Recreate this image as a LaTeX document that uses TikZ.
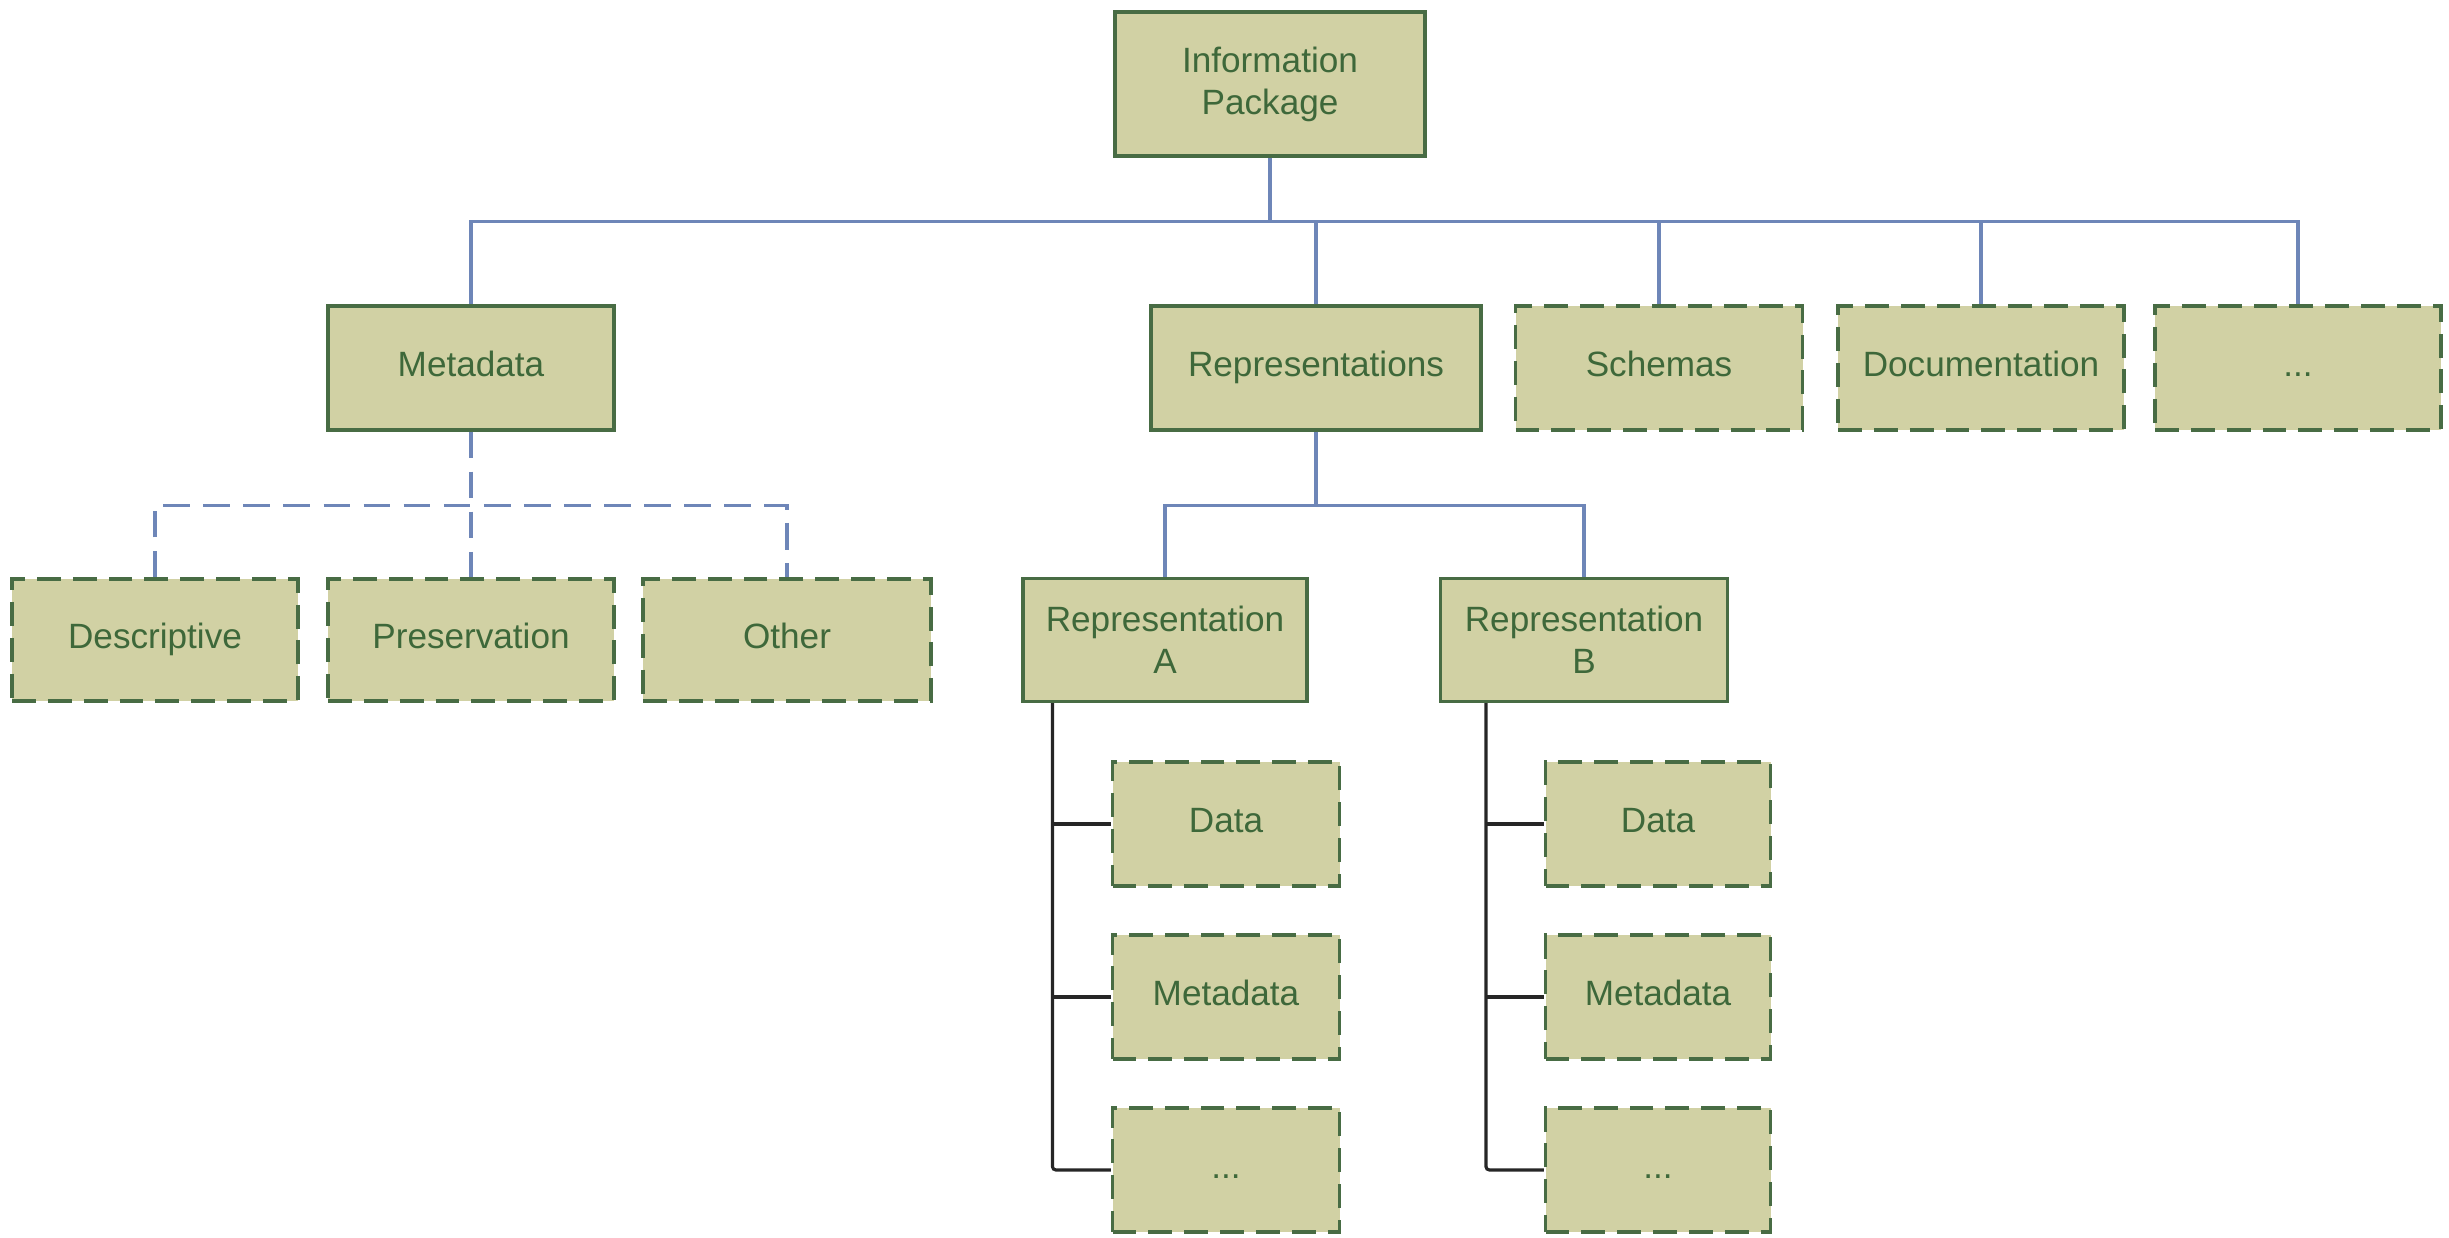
\documentclass[tikz,border=0pt]{standalone}
\usepackage{fontspec}
\setmainfont{Liberation Sans}
\usetikzlibrary{calc}
\definecolor{boxfill}{RGB}{209,209,164}
\definecolor{boxline}{RGB}{72,108,68}
\definecolor{boxtext}{RGB}{62,104,58}
\definecolor{busblue}{RGB}{110,134,184}
\tikzset{
  solidbox/.style={draw=boxline, fill=boxfill, line width=0.9pt, text=boxtext,
    font=\fontsize{10}{12}\selectfont, align=center, inner sep=0pt},
  dashbox/.style={solidbox, dash pattern=on 6.8pt off 3.4pt},
  oneline/.style={text height=8.4pt, text depth=3.6pt},
  bus/.style={draw=busblue, line width=0.9pt},
  dbus/.style={bus, dash pattern=on 7.6pt off 3.8pt},
  tree/.style={draw=black!85, line width=0.9pt, rounded corners=1pt},
}
\begin{document}
\begin{tikzpicture}[x=0.1mm,y=-0.1mm]
\useasboundingbox (0,0) rectangle (2449,1237);
% top
\node[solidbox, minimum width=31mm, minimum height=14.4mm] (ip) at (1270,84) {Information\\Package};
% level 1
\node[solidbox, oneline, minimum width=28.6mm, minimum height=12.4mm] (meta) at (471,368) {Metadata};
\node[solidbox, oneline, minimum width=33mm, minimum height=12.4mm] (reps) at (1316,368) {Representations};
\node[dashbox, oneline, minimum width=28.7mm, minimum height=12.4mm] (sch) at (1659,368) {Schemas};
\node[dashbox, oneline, minimum width=28.6mm, minimum height=12.4mm] (doc) at (1981,368) {Documentation};
\node[dashbox, oneline, minimum width=28.6mm, minimum height=12.4mm] (etc) at (2298,368) {...};
% metadata children
\node[dashbox, oneline, minimum width=28.6mm, minimum height=12.2mm] (desc) at (155,640) {Descriptive};
\node[dashbox, oneline, minimum width=28.6mm, minimum height=12.2mm] (pres) at (471,640) {Preservation};
\node[dashbox, oneline, minimum width=28.8mm, minimum height=12.2mm] (oth) at (787,640) {Other};
% representations
\node[solidbox, minimum width=28.4mm, minimum height=12.3mm] (repA) at (1165,640) {Representation\\A};
\node[solidbox, minimum width=28.7mm, minimum height=12.3mm] (repB) at (1584,640) {Representation\\B};
% rep A children
\node[dashbox, oneline, minimum width=22.7mm, minimum height=12.4mm] (dataA) at (1226,824) {Data};
\node[dashbox, oneline, minimum width=22.7mm, minimum height=12.4mm] (metaA) at (1226,997) {Metadata};
\node[dashbox, oneline, minimum width=22.7mm, minimum height=12.4mm] (dotsA) at (1226,1170) {...};
% rep B children
\node[dashbox, oneline, minimum width=22.5mm, minimum height=12.4mm] (dataB) at (1658,824) {Data};
\node[dashbox, oneline, minimum width=22.5mm, minimum height=12.4mm] (metaB) at (1658,997) {Metadata};
\node[dashbox, oneline, minimum width=22.5mm, minimum height=12.4mm] (dotsB) at (1658,1170) {...};
% top bus
\coordinate (b) at ($(ip.south)+(0,64)$);
\draw[bus] (ip.south) -- (b);
\draw[bus] (meta.north) |- (b -| etc.north) -- (etc.north);
\draw[bus] (reps.north) -- (reps.north |- b);
\draw[bus] (sch.north) -- (sch.north |- b);
\draw[bus] (doc.north) -- (doc.north |- b);
% metadata dashed bus
\coordinate (mb) at ($(meta.south)+(0,74)$);
\draw[dbus] (meta.south) -- (pres.north);
\draw[dbus] (desc.north) -- (desc.north |- mb) -- (oth.north |- mb) -- (oth.north);
% representations bus
\coordinate (rb) at ($(reps.south)+(0,74)$);
\draw[bus] (reps.south) -- (rb);
\draw[bus] (repA.north) |- (rb) -| (repB.north);
% trees
\coordinate (tA) at ($(repA.south west)+(31,0)$);
\coordinate (tB) at ($(repB.south west)+(47,0)$);
\draw[tree] (tA) |- (dotsA.west);
\draw[tree] (dataA.west) -- (dataA.west -| tA);
\draw[tree] (metaA.west) -- (metaA.west -| tA);
\draw[tree] (tB) |- (dotsB.west);
\draw[tree] (dataB.west) -- (dataB.west -| tB);
\draw[tree] (metaB.west) -- (metaB.west -| tB);
\end{tikzpicture}
\end{document}
